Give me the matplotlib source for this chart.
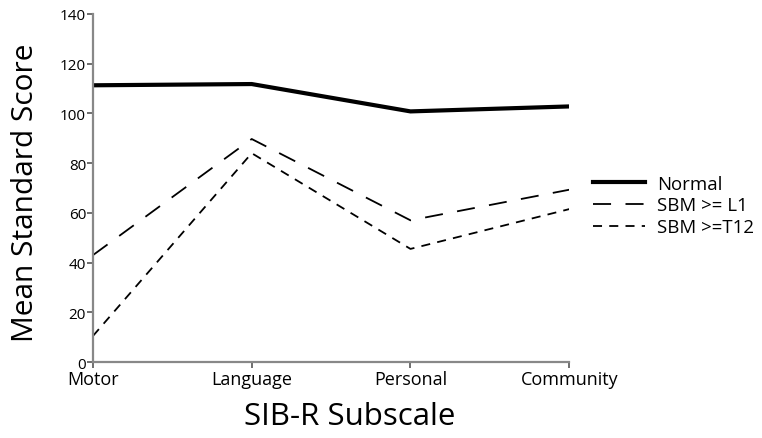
import matplotlib.pyplot as plt

# Data
subscales = ['Motor', 'Language', 'Personal', 'Community']
normal = [111.3, 111.8, 100.8, 102.8]
sbm_l1 = [43, 89.7, 57, 69.3]
sbm_t12 = [10.5, 84, 45.5, 61.5]
y_ticks = [0, 20, 40, 60, 80, 100, 120, 140]


def main():
    plt.rcParams['font.family'] = ['Open Sans', 'DejaVu Sans']

    fig = plt.figure(figsize=(7.62, 4.39), dpi=100)
    ax = fig.add_axes([0.122, 0.173, 0.625, 0.793])

    x = range(len(subscales))
    ax.plot(x, normal, color='black', linewidth=3.0, label='Normal',
            solid_joinstyle='miter')
    ax.plot(x, sbm_l1, color='black', linewidth=1.3, dashes=(10, 8),
            label='SBM >= L1')
    ax.plot(x, sbm_t12, color='black', linewidth=1.3, dashes=(5, 4),
            label='SBM >=T12')

    ax.set_xlim(0, len(subscales) - 1)
    ax.set_ylim(0, 140)
    ax.set_xticks(list(x))
    ax.set_xticklabels(subscales, fontsize=13)
    ax.set_yticks(y_ticks)
    ax.tick_params(axis='y', labelsize=11, length=4, width=1.2,
                   color='#555555', pad=1)
    ax.tick_params(axis='x', length=4, width=1.2, color='#555555', pad=2)

    for side in ['top', 'right']:
        ax.spines[side].set_visible(False)
    for side in ['left', 'bottom']:
        ax.spines[side].set_color('#888888')
        ax.spines[side].set_linewidth(1.6)

    ax.set_ylabel('Mean Standard Score', fontsize=21.5)
    ax.yaxis.set_label_coords(-0.112, 0.49)
    ax.set_xlabel('SIB-R Subscale', fontsize=22.5)
    ax.xaxis.set_label_coords(0.54, -0.112)

    ax.legend(loc='center left', bbox_to_anchor=(1.05, 0.45), frameon=False,
              fontsize=13.4, handlelength=2.8, handletextpad=0.65,
              labelspacing=0.2, borderaxespad=0, borderpad=0)

    fig.savefig('out.png', dpi=100)


if __name__ == "__main__":
    main()
